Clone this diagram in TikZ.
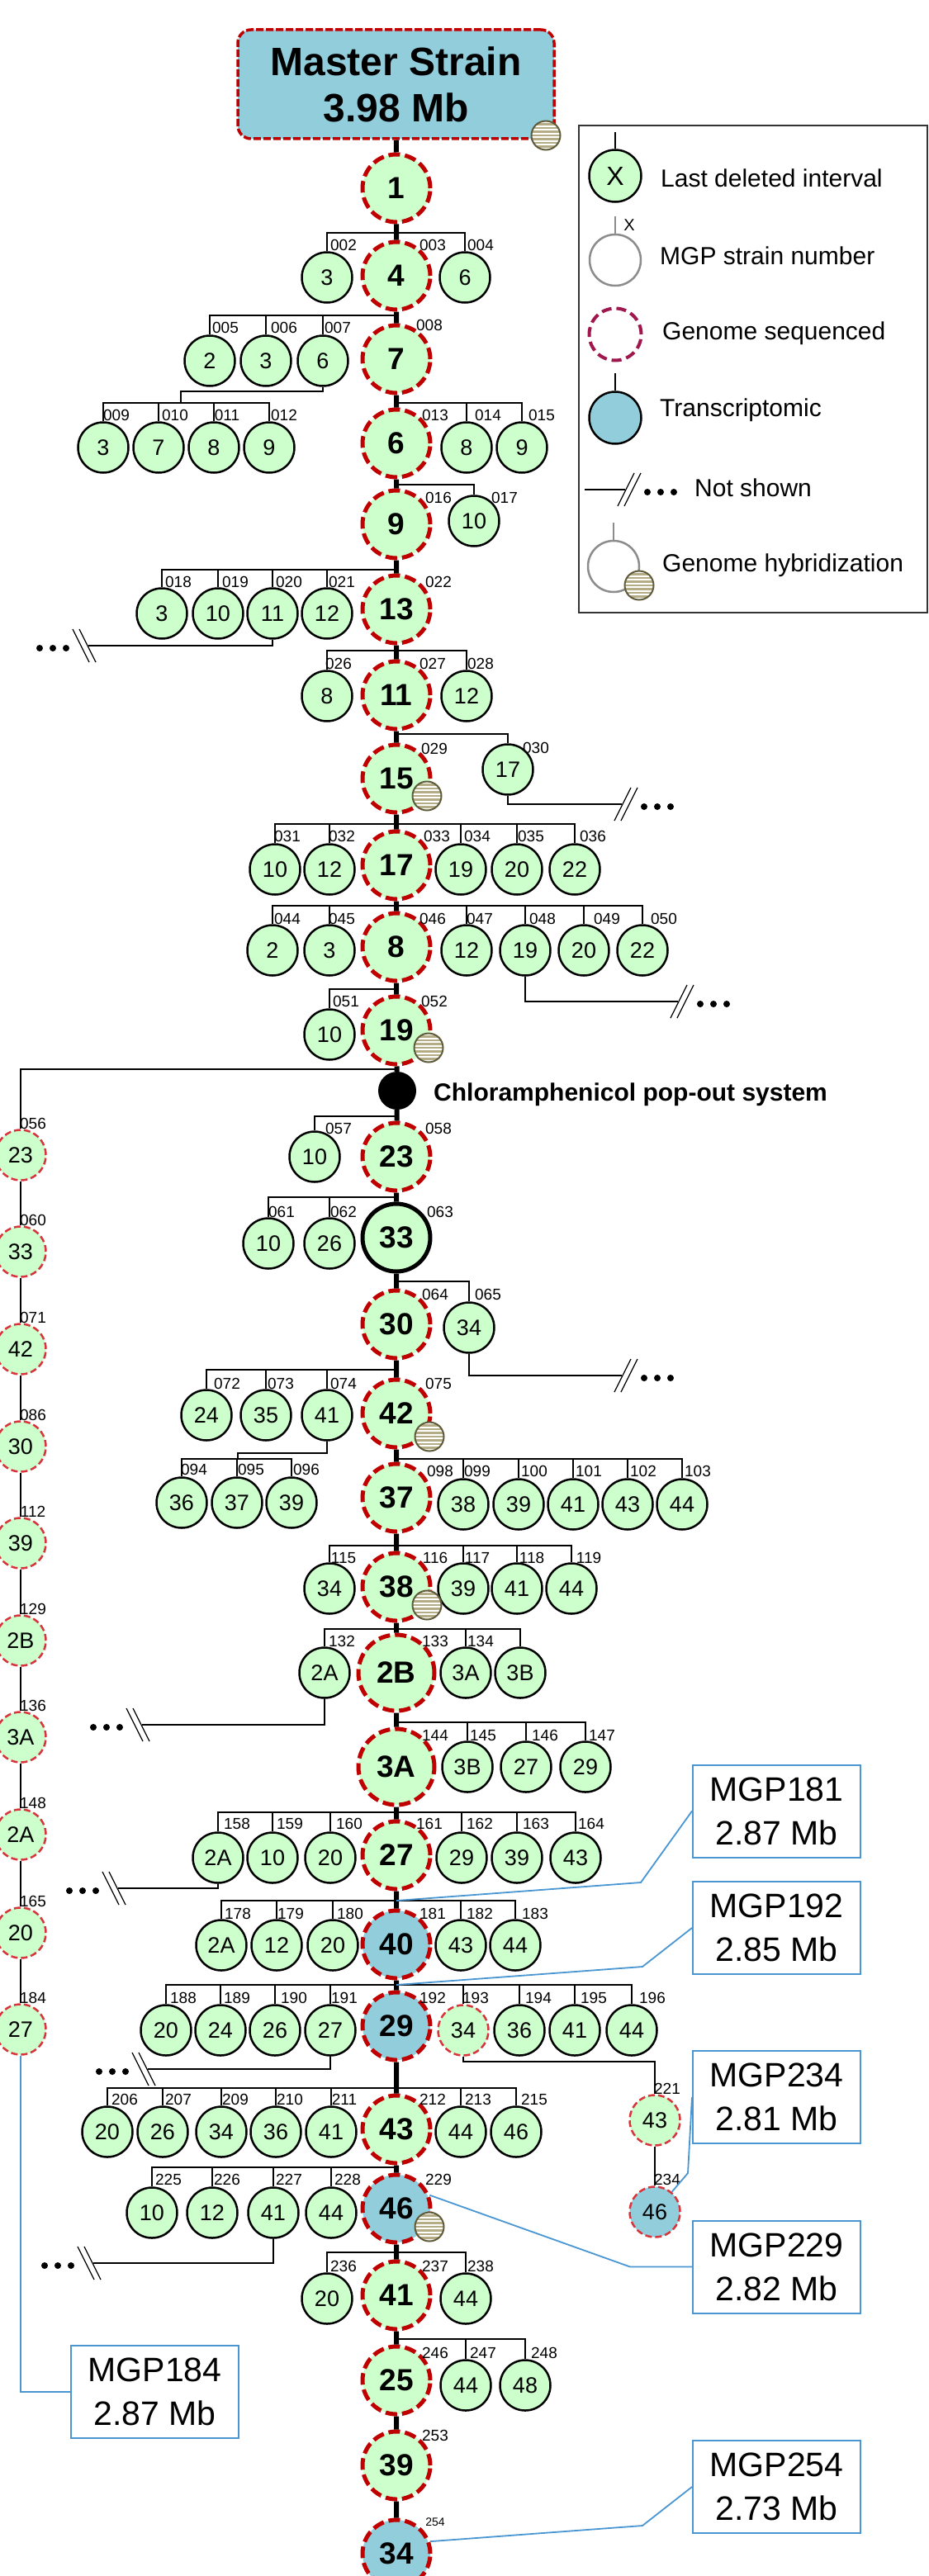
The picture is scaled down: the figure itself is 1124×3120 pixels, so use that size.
\documentclass[tikz,border=0pt]{standalone}
\usepackage{fontspec}
\setmainfont{Liberation Sans}
\usetikzlibrary{arrows.meta}
\definecolor{kidgreen}{HTML}{CCFFCC}
\definecolor{seqblue}{HTML}{92CDDC}
\definecolor{seqred}{HTML}{C00000}
\definecolor{thinred}{HTML}{D8343C}
\definecolor{maroon}{HTML}{A0174D}
\definecolor{callblue}{HTML}{4A96D2}
\definecolor{hybtan}{HTML}{B3AC85}
\definecolor{hybedge}{HTML}{5F5A3A}
\tikzset{
	kid/.style={circle,draw=black,fill=kidgreen,line width=2.5pt,minimum size=61pt,inner sep=0pt,font=\fontsize{27}{27}\selectfont},
	kiddash/.style={kid,draw=thinred,dash pattern=on 8pt off 4pt},
	kidblue/.style={kiddash,fill=seqblue},
	main/.style={circle,draw=seqred,fill=kidgreen,line width=5pt,dash pattern=on 14pt off 6pt,minimum size=82pt,inner sep=0pt,font=\fontsize{37}{37}\selectfont\bfseries},
	mainwide/.style={main,minimum size=92pt},
	mainblue/.style={main,fill=seqblue},
	mainthick/.style={main,draw=black,solid},
	tag/.style={inner sep=0pt,font=\fontsize{19}{19}\selectfont},
	tagsmall/.style={tag,font=\fontsize{14}{14}\selectfont},
	branch/.style={draw=black,line width=2.5pt},
	spine/.style={draw=black,line width=6pt},
	call/.style={draw=callblue,line width=1.8pt},
	callbox/.style={rectangle,draw=callblue,fill=white,line width=2pt,minimum width=203pt,minimum height=112pt,inner sep=0pt,align=center,font=\fontsize{41}{53}\selectfont},
	legtext/.style={anchor=west,inner sep=0pt,font=\fontsize{30}{30}\selectfont},
	ghost/.style={circle,draw=black!45,fill=white,line width=2.5pt,minimum size=62pt,inner sep=0pt},
	hyb/.style={circle,draw=hybedge,fill=white,line width=2pt,minimum size=35pt,inner sep=0pt,
		path picture={\foreach \d in {-18,-13.5,...,18} \draw[hybtan,line width=2.2pt] ([yshift=\d]path picture bounding box.west) -- ([yshift=\d]path picture bounding box.east);}},
}
\newcommand{\kidrow}[6]{
	\coordinate (#1) at (#2,#3);
	\foreach \xx/\tx/\num/\lx in {#6}{
		\node[kid] (s\num) at (\xx,#4) {\tx};
		\node[tag] (t\num) at (\lx,#5) {\num};
		\draw[branch] (#1) -| (s\num);
	}
}
\newcommand{\cutmark}[4]{
	\coordinate (#1) at (#2,#3);
	\begin{scope}[shift={(#2,#3)},xscale=#4]
		\draw[line width=1.2pt] (-9,20) -- (11,-20);
		\draw[line width=1.2pt] (-1,20) -- (19,-20);
		\foreach \dotx in {27,43,59} \fill (\dotx,3) circle (4pt);
	\end{scope}
}

\begin{document}
\begin{tikzpicture}[x=1pt,y=-1pt]
	\useasboundingbox (0,0) rectangle (1124,3120);
	\clip (0,0) rectangle (1124,3120);

	\node[rectangle,rounded corners=16pt,draw=seqred,fill=seqblue,line width=3.5pt,dash pattern=on 9pt off 3pt,minimum width=383pt,minimum height=132pt,inner sep=0pt,align=center,font=\fontsize{48}{56}\selectfont\bfseries] (master) at (479.5,102) {Master Strain\\3.98 Mb};
	\node[main] (s001) at (480,228) {1};
	\node[circle,fill=black,minimum size=46pt,inner sep=0pt] (pop) at (481,1321) {};
	\node[inner sep=0pt,anchor=west,font=\fontsize{30}{30}\selectfont\bfseries] (poptext) at (525,1326) {Chloramphenicol pop-out system};

	\foreach \st/\num/\tx/\yy/\lx/\ly in {
		main/003/4/334/524/297,main/008/7/435/520/394,main/013/6/537/527/503,main/016/9/635/531/603,
		main/022/13/738/531/705,main/027/11/842/524/804,main/029/15/943/526/907,main/033/17/1048/529/1013,
		main/046/8/1147/524/1113,main/052/19/1248/526/1213,main/058/23/1401/531/1367,mainthick/063/33/1499/533/1468,
		main/064/30/1604/527/1568,main/075/42/1712/531/1676,main/098/37/1814/533/1782,main/116/38/1922/527/1887,
		mainwide/133/2B/2026/527/1988,mainwide/144/3A/2140/527/2102,main/161/27/2247/520/2209,mainblue/181/40/2355/524/2318,
		mainblue/192/29/2454/524/2420,main/212/43/2579/524/2543,mainblue/229/46/2675/531/2640,main/237/41/2780/527/2745,
		main/246/25/2883/527/2850,main/253/39/2986/527/2950}{
		\node[\st] (s\num) at (480,\yy) {\tx};
		\node[tag] (t\num) at (\lx,\ly) {\num};
	}
	\node[mainblue] (s254) at (480,3093) {34};
	\node[tagsmall] (t254) at (527,3055) {254};

	\draw[spine] (master) -- (s001) -- (s003) -- (s008) -- (s013) -- (s016) -- (s022) -- (s027) -- (s029) -- (s033) -- (s046) -- (s052) -- (pop) -- (s058) -- (s063) -- (s064) -- (s075) -- (s098) -- (s116) -- (s133) -- (s144) -- (s161) -- (s181) -- (s192) -- (s212) -- (s229) -- (s237) -- (s246) -- (s253) -- (s254);

	\kidrow{b002}{480}{282}{336}{297}{396/3/002/416,563/6/004/582}
	\kidrow{b005}{480}{382}{437}{397}{254/2/005/273,322/3/006/344,391/6/007/409}
	\kidrow{b009}{219}{488}{542}{503}{125/3/009/141,192/7/010/212,259/8/011/275,326/9/012/344}
	\kidrow{b014}{480}{488}{542}{503}{565/8/014/591,632/9/015/656}
	\kidrow{b017}{480}{587}{631}{603}{574/10/017/611}
	\kidrow{b018}{480}{690}{743}{705}{196/3/018/216,264/10/019/285,330/11/020/350,396/12/021/414}
	\kidrow{b026}{480}{788}{843}{804}{396/8/026/410,565/12/028/582}
	\kidrow{b030}{480}{889}{932}{906}{615/17/030/649}
	\kidrow{b031}{480}{998}{1053}{1013}{333/10/031/348,399/12/032/414,558/19/034/578,626/20/035/643,696/22/036/718}
	\kidrow{b044}{480}{1097}{1151}{1113}{330/2/044/348,399/3/045/414,565/12/047/581,636/19/048/657,707/20/049/735,778/22/050/804}
	\kidrow{b051}{480}{1198}{1253}{1213}{399/10/051/419}
	\kidrow{b057}{480}{1352}{1401}{1367}{381/10/057/410}
	\kidrow{b061}{480}{1450}{1506}{1468}{325/10/061/341,399/26/062/416}
	\kidrow{b065}{480}{1552}{1608}{1568}{568/34/065/591}
	\kidrow{b072}{480}{1659}{1714}{1676}{250/24/072/275,322/35/073/340,396/41/074/416}
	\kidrow{b094}{288}{1767}{1820}{1780}{220/36/094/235,287/37/095/304,353/39/096/371}
	\kidrow{b099}{480}{1767}{1822}{1782}{561/38/099/578,628/39/100/647,694/41/101/713,760/43/102/779,826/44/103/845}
	\kidrow{b115}{480}{1872}{1924}{1887}{399/34/115/416,561/39/117/578,626/41/118/644,692/44/119/713}
	\kidrow{b132}{480}{1973}{2026}{1988}{393/2A/132/414,564/3A/134/582}
	\kidrow{b145}{480}{2086}{2140}{2102}{566/3B/145/585,637/27/146/660,709/29/147/729}
	\kidrow{b158}{480}{2195}{2250}{2209}{264/2A/158/287,330/10/159/351,400/20/160/423,559/29/162/581,626/39/163/649,697/43/164/716}
	\kidrow{b178}{480}{2302}{2356}{2318}{268/2A/178/288,335/12/179/352,403/20/180/424,558/43/182/581,624/44/183/648}
	\kidrow{b188}{480}{2404}{2459}{2420}{201/20/188/222,267/24/189/287,333/26/190/356,400/27/191/417,629/36/194/652,696/41/195/719,765/44/196/790}
	\kidrow{b206}{480}{2529}{2582}{2543}{130/20/206/151,197/26/207/216,268/34/209/285,334/36/210/351,401/41/211/417,558/44/213/579,625/46/215/647}
	\kidrow{b225}{480}{2625}{2680}{2640}{184/10/225/204,257/12/226/275,331/41/227/350,401/44/228/421}
	\kidrow{b236}{480}{2728}{2784}{2745}{396/20/236/416,564/44/238/582}
	\kidrow{b247}{480}{2833}{2889}{2850}{564/44/247/585,636/48/248/659}

	\coordinate (e009) at (219,474);
	\draw[branch] (s007) |- (e009) -- (b009);
	\coordinate (e094) at (288,1760);
	\draw[branch] (s074) |- (e094) -- (b094);

	\node[kid] (s135) at (630,2026) {3B};
	\draw[branch] (b132) -| (s135);

	\node[kiddash] (s193) at (561,2459) {34};
	\node[tag] (t193) at (576,2420) {193};
	\draw[branch] (b188) -| (s193);
	\node[kiddash] (s221) at (793,2568) {43};
	\node[tag] (t221) at (808,2530) {221};
	\node[kidblue] (s234) at (793,2679) {46};
	\node[tag] (t234) at (808,2640) {234};
	\coordinate (e221) at (793,2497);
	\draw[branch] (s193) |- (e221) -- (s221);
	\draw[branch] (s221) -- (s234);

	\cutmark{cut1}{107}{782}{-1}
	\cutmark{cut2}{753}{974}{1}
	\cutmark{cut3}{821}{1213}{1}
	\cutmark{cut4}{753}{1666}{1}
	\cutmark{cut5}{172}{2089}{-1}
	\cutmark{cut6}{143}{2287}{-1}
	\cutmark{cut7}{179}{2506}{-1}
	\cutmark{cut8}{113}{2741}{-1}
	\draw[branch] (s020) |- (cut1);
	\draw[branch] (s030) |- (cut2);
	\draw[branch] (s048) |- (cut3);
	\draw[branch] (s065) |- (cut4);
	\draw[branch] (s132) |- (cut5);
	\draw[branch] (s158) |- (cut6);
	\draw[branch] (s191) |- (cut7);
	\draw[branch] (s227) |- (cut8);

	\foreach \num/\tx/\yy in {056/23/1399,060/33/1516,071/42/1634,086/30/1752,112/39/1869,129/2B/1987,136/3A/2104,148/2A/2222,165/20/2341,184/27/2458}{
		\node[kiddash] (s\num) at (25,\yy) {\tx};
		\pgfmathtruncatemacro{\ty}{\yy-38}
		\node[tag] (t\num) at (40,\ty) {\num};
	}
	\coordinate (b056) at (480,1295);
	\draw[branch] (b056) -| (s056);
	\draw[branch] (s056) -- (s060) -- (s071) -- (s086) -- (s112) -- (s129) -- (s136) -- (s148) -- (s165) -- (s184);

	\foreach \hname/\xx/\yy in {master/661/164,015/517/964,019/519/1269,042/520/1740,038/517/1944,046/520/2697}
		\node[hyb] (h\hname) at (\xx,\yy) {};

	\node[callbox] (box181) at (940.5,2193.5) {MGP181\\2.87 Mb};
	\node[callbox] (box192) at (940.5,2335) {MGP192\\2.85 Mb};
	\node[callbox] (box234) at (940.5,2540) {MGP234\\2.81 Mb};
	\node[callbox] (box229) at (940.5,2745.5) {MGP229\\2.82 Mb};
	\node[callbox] (box254) at (940.5,3012) {MGP254\\2.73 Mb};
	\node[callbox] (box184) at (187.5,2897) {MGP184\\2.87 Mb};
	\coordinate (e181) at (776,2280);
	\coordinate (e192) at (778,2382);
	\coordinate (e234) at (833,2632);
	\coordinate (e229) at (763,2745.5);
	\coordinate (e254) at (778,3059);
	\coordinate (e184) at (25,2897);
	\draw[call] (box181.west) -- (e181) -- (b178);
	\draw[call] (box192.west) -- (e192) -- (b188);
	\draw[call] (box234.west) -- (e234) -- (s234);
	\draw[call] (box229.west) -- (e229) -- (s229.22);
	\draw[call] (box254.west) -- (e254) -- (s254.20);
	\draw[call] (s184) -- (e184) -- (box184.west);

	\draw[line width=2pt,draw=black!80] (701,152) rectangle (1123,742);
	\node[kid,minimum size=63pt,font=\fontsize{32}{32}\selectfont] (lg1) at (745,213) {X};
	\coordinate (lgtop1) at (745,160);
	\draw[branch] (lgtop1) -- (lg1);
	\node[legtext] (lgt1) at (800,216) {Last deleted interval};
	\node[ghost] (lg2) at (745,315) {};
	\coordinate (lgtop2) at (745,262);
	\draw[branch,draw=black!45] (lgtop2) -- (lg2);
	\node[tag,font=\fontsize{20}{20}\selectfont] (lgx) at (762,273) {X};
	\node[legtext] (lgt2) at (799,310) {MGP strain number};
	\node[circle,draw=maroon,line width=4pt,dash pattern=on 12pt off 6pt,minimum size=63pt,inner sep=0pt] (lg3) at (745,405) {};
	\node[legtext] (lgt3) at (802,404) {Genome sequenced};
	\node[kid,fill=seqblue,minimum size=63pt] (lg4) at (745,506) {};
	\coordinate (lgtop4) at (745,452);
	\draw[branch] (lgtop4) -- (lg4);
	\node[legtext] (lgt4) at (799,497) {Transcriptomic};
	\coordinate (lg5) at (708,593);
	\cutmark{cut9}{757}{593}{1}
	\draw[branch] (lg5) -- (cut9);
	\node[legtext] (lgt5) at (841,591) {Not shown};
	\node[ghost] (lg6) at (743,686) {};
	\coordinate (lgtop6) at (743,633);
	\draw[branch,draw=black!45] (lgtop6) -- (lg6);
	\node[hyb] (hlg) at (774,709) {};
	\node[legtext] (lgt6) at (802,685) {Genome hybridization};
\end{tikzpicture}
\end{document}
